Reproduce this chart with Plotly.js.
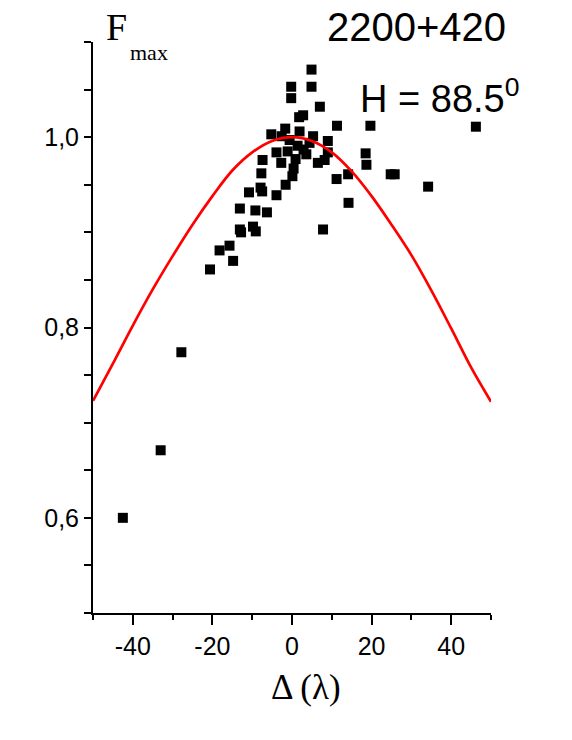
<!DOCTYPE html>
<html>
<head>
<meta charset="utf-8">
<script src="https://cdn.plot.ly/plotly-3.0.1.min.js"></script>
<style>
html,body{margin:0;padding:0;background:#fff;}
#chart{width:572px;height:740px;}
</style>
</head>
<body>
<div id="chart"></div>
<script>
// Measured points: detuning Δ (λ) and normalized F_max
const deltaValues = [
  4.9, -0.2, 4.9, -0.2, 7.0, 1.8, 2.8, 11.3, 19.7, 46.2,
  -5.2, -1.7, 1.9, 5.3, 9.0, -2.6, -0.6, 1.4, -3.9, -1.1,
  3.6, 6.5, 0.9, -2.7, 0.4, 0.1, -1.6, 8.2, 9.0, 2.9,
  4.4, -7.4, -7.7, -7.9, -7.5, -10.8, -3.9, -13.1, -9.2, -6.3,
  -13.1, -12.8, -9.8, -9.1, -18.2, -15.7, -14.8, -20.6, -27.8, -33.0,
  -42.5, 18.5, 18.7, 24.8, 25.8, 34.2, 14.1, 11.2, 14.2, 7.8
];
const fmaxValues = [
  1.071, 1.053, 1.053, 1.041, 1.032, 1.021, 1.023, 1.012, 1.012, 1.011,
  1.003, 1.009, 1.006, 1.001, 0.996, 1.001, 0.997, 0.991, 0.984, 0.985,
  0.982, 0.973, 0.977, 0.973, 0.967, 0.959, 0.950, 0.976, 0.984, 0.987,
  0.994, 0.976, 0.962, 0.947, 0.943, 0.942, 0.939, 0.925, 0.923, 0.921,
  0.903, 0.900, 0.906, 0.901, 0.881, 0.886, 0.870, 0.861, 0.774, 0.671,
  0.600, 0.983, 0.971, 0.961, 0.961, 0.948, 0.961, 0.956, 0.931, 0.903
];
// Model curve
const curveX = [-50, -45, -40, -35, -30, -25, -20, -15, -10, -5, 0, 5, 10, 15, 20, 25, 30, 35, 40, 45, 50];
const curveY = [0.723, 0.762, 0.802, 0.840, 0.875, 0.908, 0.938, 0.965, 0.984, 0.996, 1.0, 0.996, 0.984, 0.964, 0.938, 0.908, 0.876, 0.839, 0.799, 0.758, 0.722];
// Tick labels
const yTickVals = [0.6, 0.8, 1.0];
const yTickText = ['0,6', '0,8', '1,0'];
const yMinorVals = [0.5, 0.55, 0.65, 0.7, 0.75, 0.85, 0.9, 0.95, 1.05, 1.1];
const xTickVals = [-40, -20, 0, 20, 40];
const xTickText = ['-40', '-20', '0', '20', '40'];
const xMinorVals = [-50, -30, -10, 10, 30, 50];

const sans = 'Liberation Sans, Arial, sans-serif';
const serif = 'Liberation Serif, Times New Roman, serif';

const traces = [
  {
    type: 'scatter', mode: 'markers',
    x: deltaValues, y: fmaxValues,
    marker: {symbol: 'square', size: 10, color: '#000'},
    showlegend: false, hoverinfo: 'skip'
  },
  {
    type: 'scatter', mode: 'lines',
    x: curveX, y: curveY,
    line: {color: '#ff0000', width: 2.7, shape: 'spline', smoothing: 1},
    showlegend: false, hoverinfo: 'skip'
  }
];

const layout = {
  width: 572, height: 740,
  paper_bgcolor: '#fff', plot_bgcolor: '#fff',
  margin: {l: 93, r: 81, t: 42, b: 127},
  showlegend: false,
  xaxis: {
    range: [-50, 50],
    tickvals: xTickVals, ticktext: xTickText,
    ticks: 'outside', ticklen: 10, tickwidth: 2, tickcolor: '#000',
    minor: {tickvals: xMinorVals, ticks: 'outside', ticklen: 5, tickwidth: 2, tickcolor: '#000'},
    showline: true, linewidth: 2, linecolor: '#000',
    showgrid: false, zeroline: false,
    tickfont: {family: sans, size: 25, color: '#000'}
  },
  yaxis: {
    range: [0.5, 1.1],
    tickvals: yTickVals, ticktext: yTickText,
    ticks: 'outside', ticklen: 7, tickwidth: 2, tickcolor: '#000',
    minor: {tickvals: yMinorVals, ticks: 'outside', ticklen: 7, tickwidth: 2, tickcolor: '#000'},
    showline: true, linewidth: 2, linecolor: '#000',
    showgrid: false, zeroline: false,
    tickfont: {family: sans, size: 25, color: '#000'}
  },
  annotations: [
    {xref: 'paper', yref: 'paper', x: 0.535, y: -0.131, xanchor: 'center', yanchor: 'middle',
     text: 'Δ (λ)', showarrow: false, font: {family: serif, size: 35, color: '#000'}},
    {xref: 'paper', yref: 'paper', x: 0.028, y: 1.026, xanchor: 'left', yanchor: 'middle',
     text: 'F', showarrow: false, font: {family: serif, size: 38, color: '#000'}},
    {xref: 'paper', yref: 'paper', x: 0.088, y: 0.981, xanchor: 'left', yanchor: 'middle',
     text: 'max', showarrow: false, font: {family: serif, size: 22, color: '#000'}},
    {xref: 'paper', yref: 'paper', x: 0.814, y: 1.026, xanchor: 'center', yanchor: 'middle',
     text: '2200+420', showarrow: false, font: {family: sans, size: 40, color: '#000'}},
    {xref: 'paper', yref: 'paper', x: 0.665, y: 0.905, xanchor: 'left', yanchor: 'middle',
     text: 'H = 88.5<sup>0</sup>', showarrow: false, font: {family: sans, size: 38, color: '#000'}}
  ]
};

Plotly.newPlot('chart', traces, layout, {staticPlot: true, displayModeBar: false});
</script>
</body>
</html>
